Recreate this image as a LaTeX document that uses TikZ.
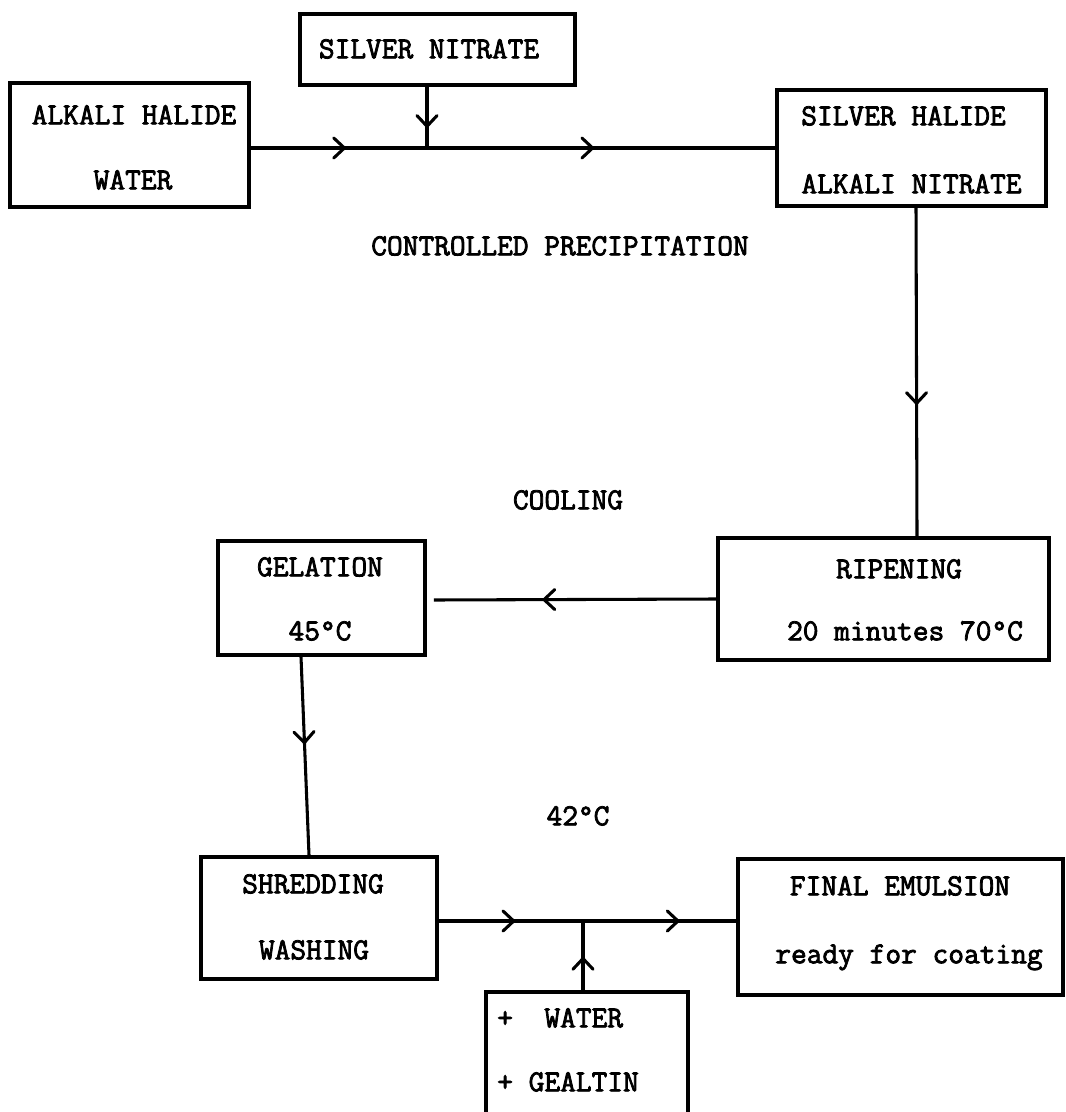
\documentclass[tikz,border=0pt]{standalone}
\usepackage{fontspec}
\newfontfamily\typw{Latin Modern Mono}[FakeBold=2.6]
\usetikzlibrary{arrows.meta,decorations.markings,calc}
\begin{document}
\begin{tikzpicture}[x=0.75pt,y=-0.75pt,
  box/.style={draw, line width=2.7pt, inner sep=0pt},
  txt/.style={font=\typw\fontsize{22.9pt}{27pt}\selectfont, inner sep=0pt, text height=13.9pt, text depth=0pt},
  conn/.style={line width=2.3pt},
  midarrow/.style={postaction={decorate}, decoration={markings, mark=at position #1 with {\arrow{Straight Barb[length=8pt,width=15pt,round]}}}}
]
\fill[white] (0,0) rectangle (1065,1112);
\useasboundingbox (0,0) rectangle (1065,1112);

% boxes
\node[box, minimum width=206.25pt, minimum height=53.25pt] (snit) at (437.5,49.5) {};
\node[box, minimum width=179.25pt, minimum height=93pt] (alkali) at (129.5,145) {};
\node[box, minimum width=201.75pt, minimum height=87pt] (shalide) at (911.5,148) {};
\node[box, minimum width=248.25pt, minimum height=91.5pt] (ripen) at (883.5,599) {};
\node[box, minimum width=155.25pt, minimum height=85.5pt] (gel) at (321.5,598) {};
\node[box, minimum width=177pt, minimum height=91.5pt] (shred) at (319,918) {};
\node[box, minimum width=243.75pt, minimum height=102pt] (final) at (900.5,927) {};
\node[box, minimum width=151.5pt, minimum height=99.75pt] (water) at (587,1058.5) {};

% texts
\node[txt] (tsn) at (429,49) {SILVER NITRATE};
\node[txt] (tah1) at (134,115) {ALKALI HALIDE};
\node[txt] (tah2) at (133,180) {WATER};
\node[txt] (tsh1) at (903.5,116) {SILVER HALIDE};
\node[txt] (tsh2) at (911.5,184) {ALKALI NITRATE};
\node[txt] (tcp) at (560,246) {CONTROLLED PRECIPITATION};
\node[txt] (tcool) at (568,500) {COOLING};
\node[txt] (trip1) at (899,569) {RIPENING};
\node[txt] (trip2) at (905,631) {20 minutes 70°C};
\node[txt] (tgel1) at (320,567) {GELATION};
\node[txt] (tgel2) at (320,631) {45°C};
\node[txt] (t42) at (578,816) {42°C};
\node[txt] (tsw1) at (313,884) {SHREDDING};
\node[txt] (tsw2) at (314,950) {WASHING};
\node[txt] (tfe1) at (900,886) {FINAL EMULSION};
\node[txt] (tfe2) at (909,954) {ready for coating};
\node[txt, anchor=west] (tw1) at (497,1018) {+~~WATER};
\node[txt, anchor=west] (tw2) at (497,1082) {+ GEALTIN};

% connectors
\coordinate (j1) at (427,148);
\draw[conn, midarrow=0.54] (alkali.east |- j1) -- (j1);
\draw[conn, midarrow=0.48] (j1) -- (j1 -| shalide.west);
\draw[conn, midarrow=0.67] (snit.south -| j1) -- (j1);

\draw[conn, midarrow=0.6] ($(shalide.south)+(4.5,0)$) -- ($(ripen.north)+(33.5,0)$);
\draw[conn, midarrow=0.615] (ripen.west) -- ($(gel.east)+(7,2)$);
\draw[conn, midarrow=0.44] ($(gel.south)+(-20.5,0)$) -- ($(shred.north)+(-10,0)$);

\coordinate (j2) at (583,921);
\draw[conn, midarrow=0.53] (shred.east |- j2) -- (j2);
\draw[conn, midarrow=0.63] (j2) -- (j2 -| final.west);
\draw[conn, midarrow=0.48] (water.north -| j2) -- (j2);
\end{tikzpicture}
\end{document}
